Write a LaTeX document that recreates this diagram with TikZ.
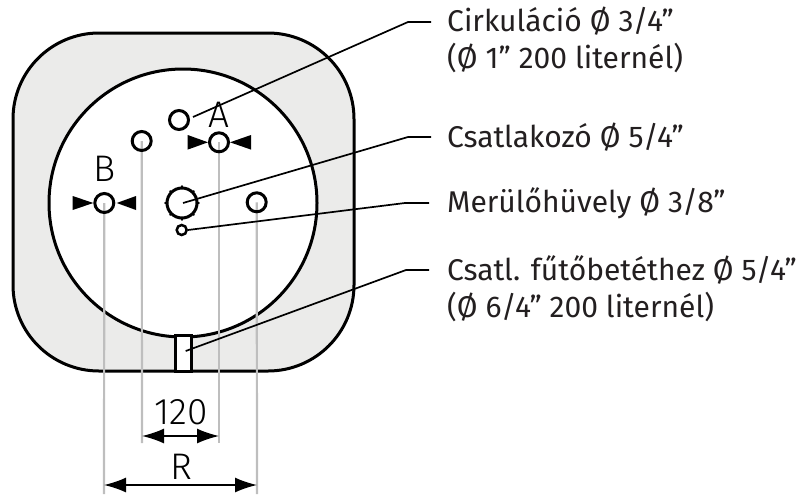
\documentclass[tikz,border=0pt]{standalone}
\usepackage{fontspec}
\setmainfont{Fira Sans}
\newfontfamily\thinfont{Fira Sans Light}
\usetikzlibrary{arrows.meta}
\definecolor{ink}{HTML}{231F20}
\definecolor{shell}{HTML}{EBEBEA}
\definecolor{guidegray}{HTML}{BEBEBE}
\tikzset{
 body/.style={draw=black,line width=3pt,fill=shell},
 port/.style={circle,draw=black,line width=3pt,inner sep=0pt,fill=none},
 leader/.style={draw=black,line width=1.7pt},
 guide/.style={draw=guidegray,line width=2.2pt},
 dimline/.style={draw=black,line width=1.5pt,{Latex[length=22pt,width=15pt]}-{Latex[length=22pt,width=15pt]}},
 lab/.style={anchor=base west,inner sep=0pt,text=ink,font=\fontsize{30}{37}\selectfont,align=left},
 big/.style={inner sep=0pt,font=\thinfont\fontsize{37}{37}\selectfont},
 wedge/.style={fill=black}
}
\begin{document}
\begin{tikzpicture}[x=1pt,y=-1pt]
\useasboundingbox (0,0) rectangle (805,496);
\draw[body,rounded corners=86pt] (13,33) rectangle (354,371);
\draw[draw=black,line width=3pt,fill=white] (183,203) circle[radius=134];
\node[draw=black,line width=3pt,fill=white,minimum width=16pt,minimum height=36pt,inner sep=0pt,anchor=south] (slot) at (183.3,372.5) {};
\coordinate (g1) at (104,494); \coordinate (g2) at (142,443); \coordinate (g3) at (219,443); \coordinate (g4) at (257,494);
\draw[guide] (104.3,203) -- (g1);
\draw[guide] (141.7,141) -- (g2);
\draw[guide] (219,142.3) -- (g3);
\draw[guide] (256.7,202.3) -- (g4);
\node[port,minimum size=19pt] (pb) at (104.3,203) {};
\node[port,minimum size=19pt] (pl) at (141.7,141) {};
\node[port,minimum size=19pt] (pc) at (179,120) {};
\node[port,minimum size=19pt] (pa) at (219,142.3) {};
\node[port,minimum size=19pt] (pr) at (256.7,202.3) {};
\node[port,minimum size=30pt] (pm) at (182,203) {};
\node[port,minimum size=10pt,line width=2.5pt] (ps) at (181.7,230) {};
\foreach \a in {0,45,...,315} \fill[black] (pm.center) ++(\a:16.6) circle[radius=1.2];
\fill[wedge] (208,142.3) -- (187.7,135) -- (187.7,149.6) -- cycle;
\fill[wedge] (230,142.3) -- (251,135) -- (251,149.6) -- cycle;
\fill[wedge] (93.3,203) -- (72.7,196) -- (72.7,210) -- cycle;
\fill[wedge] (116.7,203) -- (136,196) -- (136,210) -- cycle;
\node[big] (la) at (219,114.5) {A};
\node[big] (lb) at (104.5,169) {B};
\node[big] (l120) at (181,412) {120};
\node[big] (lr) at (181,467) {R};
\draw[dimline] (g2|-0,436) -- (g3|-0,436);
\draw[dimline] (g1|-0,485) -- (g4|-0,485);
\node[lab] (t1) at (447,68) {Cirkuláció Ø 3/4”\\(Ø 1” 200 liternél)};
\node[lab] (t2) at (447,147) {Csatlakozó Ø 5/4”};
\node[lab] (t3) at (447,212) {Merülőhüvely Ø 3/8”};
\node[lab] (t4) at (447,317) {Csatl. fűtőbetéthez Ø 5/4”\\(Ø 6/4” 200 liternél)};
\coordinate (e1) at (408,22); \coordinate (e1b) at (431,22);
\coordinate (e2) at (408,137); \coordinate (e2b) at (431,137);
\coordinate (e3) at (405,203); \coordinate (e3b) at (429,203);
\coordinate (e4) at (406,270); \coordinate (e4b) at (429,270);
\coordinate (s1) at (193,117); \coordinate (s2) at (183,203); \coordinate (s3) at (188,230); \coordinate (s4) at (185.7,351);
\draw[leader] (s1) -- (e1) -- (e1b);
\draw[leader] (s2) -- (e2) -- (e2b);
\draw[leader] (s3) -- (e3) -- (e3b);
\draw[leader] (s4) -- (e4) -- (e4b);
\end{tikzpicture}
\end{document}
